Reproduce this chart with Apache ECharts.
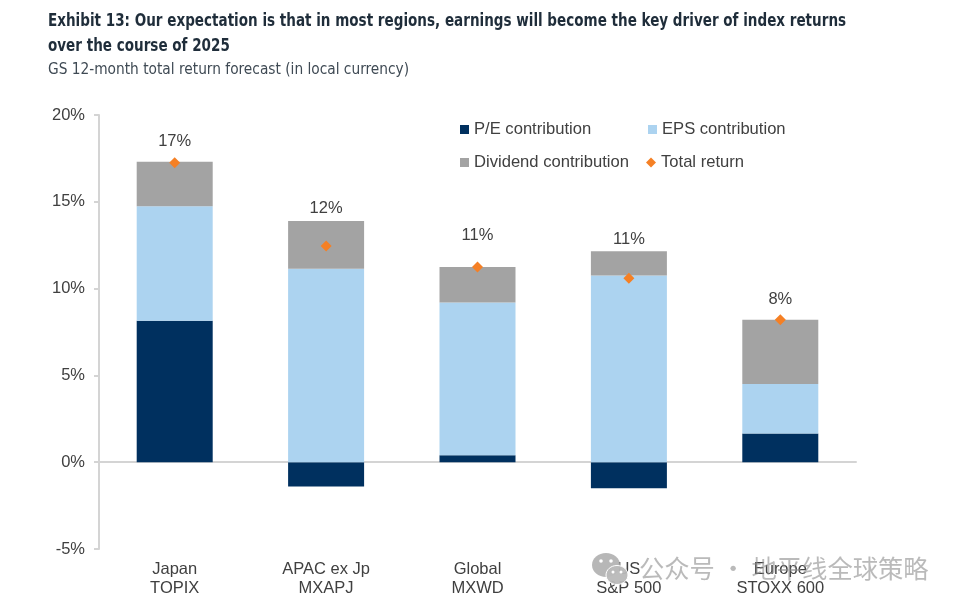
<!DOCTYPE html>
<html><head><meta charset="utf-8">
<style>html,body{margin:0;padding:0;background:#fff}#c{width:960px;height:607px}</style>
<script src="https://cdn.jsdelivr.net/npm/echarts@6/dist/echarts.min.js"></script></head>
<body><div id="c"></div>
<script>
const categories = ['Japan\nTOPIX','APAC ex Jp\nMXAPJ','Global\nMXWD','US\nS&P 500','Europe\nSTOXX 600'];
const peContribution = [8.15,-1.4,0.4,-1.5,1.65];
const epsContribution = [6.6,11.15,8.8,10.75,2.85];
const dividendContribution = [2.55,2.75,2.05,1.4,3.7];
const totalReturn = [17.25,12.45,11.25,10.6,8.2];
const totalLabels = ['17%','12%','11%','11%','8%'];
const valueTicks = [-5,0,5,10,15,20];
const labelGaps = [7,24,17,25,6];

const font='"Liberation Sans",Arial,sans-serif', txt='#404040', axisCol='#d4d4d4';
const NAVY='#00305f', SKY='#acd3f0', GREY='#a3a3a3', ORANGE='#f58025';
const leg=(name,left,top,icon)=>({data:[{name,icon}],left,top,itemWidth:icon==='diamond'?10:9,itemHeight:icon==='diamond'?10:9,itemGap:5,padding:0,
  textStyle:{fontFamily:font,fontSize:16.6,color:txt},selectedMode:false});
const chart=echarts.init(document.getElementById('c'),null,{renderer:'canvas'});
chart.setOption({
  animation:false,backgroundColor:'#fff',
  textStyle:{fontFamily:font},
  legend:[leg('P/E contribution',460,121,'rect'),leg('EPS contribution',648,121,'rect'),
          leg('Dividend contribution',460,154,'rect'),leg('Total return',646,154,'diamond')],
  grid:{left:99,right:104,top:115,bottom:58,containLabel:false},
  xAxis:[
   {type:'category',data:categories,position:'bottom',axisLine:{show:false,onZero:false},axisTick:{show:false},
    axisLabel:{interval:0,margin:11,fontFamily:font,fontSize:16.5,lineHeight:19,color:txt}},
   {type:'category',data:categories,position:'bottom',axisLine:{onZero:true,lineStyle:{color:axisCol,width:2}},axisTick:{show:false},axisLabel:{show:false}}
  ],
  yAxis:{type:'value',min:valueTicks[0],max:valueTicks[valueTicks.length-1],interval:5,splitLine:{show:false},
    axisLine:{show:true,lineStyle:{color:axisCol,width:2}},axisTick:{show:true,length:5,lineStyle:{color:axisCol,width:2}},
    axisLabel:{formatter:'{value}%',margin:14,fontFamily:font,fontSize:16.5,color:txt}},
  series:[
   {name:'P/E contribution',type:'bar',stack:'s',barWidth:76,data:peContribution,itemStyle:{color:NAVY}},
   {name:'EPS contribution',type:'bar',stack:'s',data:epsContribution,itemStyle:{color:SKY}},
   {name:'Dividend contribution',type:'bar',stack:'s',data:dividendContribution,itemStyle:{color:GREY}},
   {name:'Total return',type:'scatter',symbol:'diamond',symbolSize:11,z:5,itemStyle:{color:ORANGE,opacity:1},
    data:totalReturn.map((v,i)=>({value:v,label:{show:true,position:'top',distance:labelGaps[i],formatter:totalLabels[i],fontFamily:font,fontSize:16.5,color:txt}}))}
  ],
  graphic:[
   {type:'text',x:48,y:13,scaleX:0.885,z:30,style:{text:'Exhibit 13: Our expectation is that in most regions, earnings will become the key driver of index returns',fill:'#1f2d3a',font:'bold 17px "DejaVu Sans Condensed"'}},
   {type:'text',x:48,y:38,scaleX:0.885,z:30,style:{text:'over the course of 2025',fill:'#1f2d3a',font:'bold 17px "DejaVu Sans Condensed"'}},
   {type:'text',x:48,y:62,scaleX:0.955,z:30,style:{text:'GS 12-month total return forecast (in local currency)',fill:'#3f4a54',font:'16px "DejaVu Sans Condensed"'}},
   {type:'ellipse',shape:{cx:606,cy:565,rx:14,ry:12},style:{fill:'rgba(175,175,175,0.9)'},z:20},
   {type:'ellipse',shape:{cx:617,cy:575,rx:11,ry:9.5},style:{fill:'rgba(185,185,185,0.95)',stroke:'#fff',lineWidth:1},z:21},
   {type:'circle',shape:{cx:601,cy:561,r:1.8},style:{fill:'#fff'},z:22},
   {type:'circle',shape:{cx:611,cy:561,r:1.8},style:{fill:'#fff'},z:22},
   {type:'circle',shape:{cx:613,cy:572,r:1.5},style:{fill:'#fff'},z:22},
   {type:'circle',shape:{cx:621,cy:572,r:1.5},style:{fill:'#fff'},z:22},
   {type:'text',left:639,top:556,z:20,style:{text:'公众号 · 地平线全球策略',fill:'rgba(140,140,140,0.6)',font:'25.3px "Noto Sans CJK SC"'}}
  ]
});
</script></body></html>
